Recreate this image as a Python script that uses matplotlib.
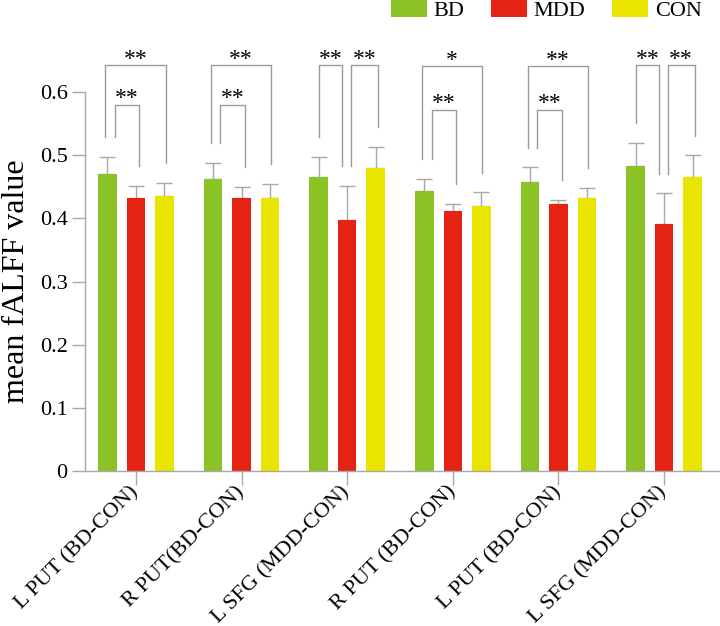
import numpy as np
import matplotlib
matplotlib.use('Agg')
import matplotlib.pyplot as plt

plt.rcParams['font.family'] = ['Liberation Serif', 'DejaVu Serif']

# 区域标签与三组均值/标准误
regions = ['L PUT (BD-CON)', 'R PUT(BD-CON)', 'L SFG (MDD-CON)',
           'R PUT (BD-CON)', 'L PUT (BD-CON)', 'L SFG (MDD-CON)']
groups = ['BD', 'MDD', 'CON']
bd_mean = [0.471, 0.463, 0.466, 0.444, 0.457, 0.483]
bd_err = [0.026, 0.025, 0.031, 0.019, 0.024, 0.037]
mdd_mean = [0.433, 0.433, 0.397, 0.411, 0.422, 0.391]
mdd_err = [0.019, 0.017, 0.055, 0.012, 0.007, 0.049]
con_mean = [0.436, 0.433, 0.479, 0.420, 0.433, 0.466]
con_err = [0.020, 0.022, 0.034, 0.021, 0.015, 0.034]

# 显著性比较: (区域序号, 组a, 组b, 标记, 括号高度)
sig_pairs = [
    (0, 'BD', 'CON', '**', 0.642), (0, 'BD', 'MDD', '**', 0.580),
    (1, 'BD', 'CON', '**', 0.642), (1, 'BD', 'MDD', '**', 0.580),
    (2, 'BD', 'MDD', '**', 0.642), (2, 'MDD', 'CON', '**', 0.642),
    (3, 'BD', 'CON', '*', 0.641), (3, 'BD', 'MDD', '**', 0.572),
    (4, 'BD', 'CON', '**', 0.641), (4, 'BD', 'MDD', '**', 0.572),
    (5, 'BD', 'MDD', '**', 0.642), (5, 'MDD', 'CON', '**', 0.642),
]

colors = {'BD': '#8bc226', 'MDD': '#e42313', 'CON': '#e9e400'}
offsets = {'BD': -0.27, 'MDD': 0.0, 'CON': 0.27}
means = {'BD': bd_mean, 'MDD': mdd_mean, 'CON': con_mean}
errs = {'BD': bd_err, 'MDD': mdd_err, 'CON': con_err}
GRAY = '#a8a8a8'
BRACKET = '#9a9a9a'

fig = plt.figure(figsize=(7.2, 6.26), dpi=100)
ax = fig.add_axes([0.118, 0.2476, 0.882, 0.6054])

x = np.arange(len(regions))
width = 0.175
handles = []
for g in groups:
    h = ax.bar(x + offsets[g], means[g], width, color=colors[g], label=g, zorder=2)
    handles.append(h)
    e = np.array(errs[g])
    ax.errorbar(x + offsets[g], means[g], yerr=[np.zeros_like(e), e], fmt='none',
                ecolor=GRAY, elinewidth=1.0, capsize=5.5, capthick=1.0, zorder=1)

# 括号两端的水平偏移（相对柱中心）
shift = {
    ('BD', 'CON', 'outer'): (-0.02, 0.01),
    ('BD', 'MDD', 'inner'): (0.07, 0.03),
    ('BD', 'MDD', 'outer'): (0.0, -0.045),
    ('MDD', 'CON', 'outer'): (0.035, 0.02),
}
gap = 0.031
for i, a, b, lab, top in sig_pairs:
    kind = 'outer' if top > 0.6 else 'inner'
    da, db = shift[(a, b, kind)]
    xa = x[i] + offsets[a] + da
    xb = x[i] + offsets[b] + db
    ya = means[a][i] + errs[a][i] + gap
    yb = means[b][i] + errs[b][i] + gap
    ax.plot([xa, xa, xb, xb], [ya, top, top, yb], color=BRACKET, lw=1.0,
            clip_on=False, zorder=3)
    ax.text((xa + xb) / 2, top - 0.007, lab, ha='center', va='bottom',
            fontsize=17, clip_on=False)

ax.set_xlim(-0.483, 5.53)
ax.set_ylim(0, 0.6)
ax.set_yticks(np.arange(0, 0.61, 0.1))
ax.set_yticklabels(['0', '0.1', '0.2', '0.3', '0.4', '0.5', '0.6'])
ax.set_xticks(x)
ax.set_xticklabels(regions, rotation=45, ha='right', va='center',
                   rotation_mode='anchor')
ax.tick_params(axis='y', labelsize=16, length=9.5, width=1, color=GRAY, pad=3)
ax.tick_params(axis='x', labelsize=16, length=10, width=1, color=GRAY, pad=3)
for s in ['top', 'right']:
    ax.spines[s].set_visible(False)
for s in ['left', 'bottom']:
    ax.spines[s].set_color(GRAY)
    ax.spines[s].set_linewidth(1.0)
ax.set_ylabel('mean fALFF value', fontsize=23, labelpad=6)

fig.legend(handles=handles, labels=groups, loc='upper right',
           bbox_to_anchor=(702 / 720, 1.0), ncol=3, frameon=False, fontsize=16,
           handlelength=1.62, handleheight=0.8, handletextpad=0.31,
           columnspacing=1.2, borderpad=0, borderaxespad=0)

fig.savefig('out.png', dpi=100)
